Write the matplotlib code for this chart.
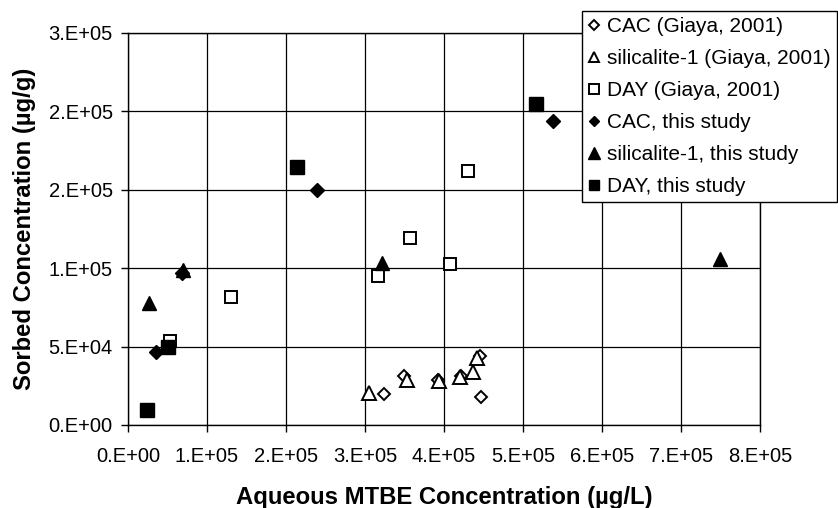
import matplotlib.pyplot as plt

plt.rcParams['font.family'] = ['Liberation Sans', 'DejaVu Sans']

# Giaya (2001) data
cac_giaya_x = [3.24e5, 3.50e5, 3.93e5, 4.22e5, 4.46e5, 4.47e5]
cac_giaya_y = [1.97e4, 3.12e4, 2.87e4, 3.12e4, 4.40e4, 1.80e4]
sil_giaya_x = [3.05e5, 3.53e5, 3.94e5, 4.20e5, 4.37e5, 4.42e5]
sil_giaya_y = [2.02e4, 2.87e4, 2.78e4, 3.04e4, 3.40e4, 4.27e4]
day_giaya_x = [5.35e4, 1.31e5, 3.17e5, 3.57e5, 4.07e5, 4.30e5]
day_giaya_y = [5.37e4, 8.17e4, 9.51e4, 1.19e5, 1.026e5, 1.618e5]

# this study
cac_x = [3.6e4, 6.9e4, 2.39e5, 5.38e5]
cac_y = [4.67e4, 9.7e4, 1.50e5, 1.94e5]
sil_x = [2.7e4, 7.0e4, 3.21e5, 7.49e5]
sil_y = [7.75e4, 9.9e4, 1.03e5, 1.06e5]
day_x = [2.4e4, 5.1e4, 2.14e5, 5.17e5]
day_y = [9.6e3, 4.99e4, 1.645e5, 2.045e5]

x_ticks = [0, 1e5, 2e5, 3e5, 4e5, 5e5, 6e5, 7e5, 8e5]
x_labels = ['0.E+00', '1.E+05', '2.E+05', '3.E+05', '4.E+05',
            '5.E+05', '6.E+05', '7.E+05', '8.E+05']
y_ticks = [0, 5e4, 1e5, 1.5e5, 2e5, 2.5e5]
y_labels = ['0.E+00', '5.E+04', '1.E+05', '2.E+05', '2.E+05', '3.E+05']

fig = plt.figure(figsize=(8.38, 5.08), dpi=100)
ax = fig.add_axes([0.1527, 0.1634, 0.7542, 0.7722])

open_kw = dict(ls='none', mfc='white', mec='black', mew=1.4, zorder=3)
fill_kw = dict(ls='none', color='black', zorder=4)

ax.plot(cac_giaya_x, cac_giaya_y, 'D', ms=6.5, label='CAC (Giaya, 2001)', **open_kw)
ax.plot(sil_giaya_x, sil_giaya_y, '^', ms=9.5, label='silicalite-1 (Giaya, 2001)', **open_kw)
ax.plot(day_giaya_x, day_giaya_y, 's', ms=9, label='DAY (Giaya, 2001)', **open_kw)
ax.plot(cac_x, cac_y, 'D', ms=7, label='CAC, this study', **fill_kw)
ax.plot(sil_x, sil_y, '^', ms=10, label='silicalite-1, this study', **fill_kw)
ax.plot(day_x, day_y, 's', ms=9.5, label='DAY, this study', **fill_kw)

ax.set_xlim(0, 8e5)
ax.set_ylim(0, 2.5e5)
ax.set_xticks(x_ticks)
ax.set_xticklabels(x_labels)
ax.set_yticks(y_ticks)
ax.set_yticklabels(y_labels)
ax.tick_params(labelsize=14.5, direction='out', length=5, width=1, colors='black')
ax.tick_params(axis='x', pad=11)
ax.tick_params(axis='y', pad=6)
ax.grid(True, color='black', linewidth=0.9)
ax.set_axisbelow(True)
for s in ax.spines.values():
    s.set_color('black')
    s.set_linewidth(1)

ax.set_xlabel('Aqueous MTBE Concentration (µg/L)', fontsize=17.2, fontweight='bold', labelpad=14)
ax.set_ylabel('Sorbed Concentration (µg/g)', fontsize=17.2, fontweight='bold', labelpad=9)

# legend sits over the top right corner, past the plot area
leg = fig.legend(loc='upper right', bbox_to_anchor=(0.9985, 0.978), bbox_transform=fig.transFigure,
                 fontsize=15, frameon=True, fancybox=False, edgecolor='black',
                 handlelength=0.6, handletextpad=0.3, borderpad=0.3, labelspacing=0.62,
                 markerscale=0.8, borderaxespad=0)
leg.get_frame().set_linewidth(1)
leg.get_frame().set_alpha(1)

plt.savefig('out.png', dpi=100)
